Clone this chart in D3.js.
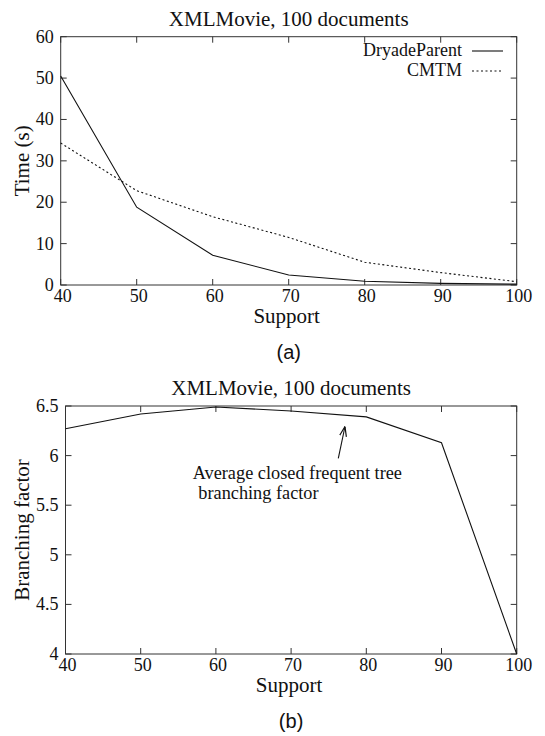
<!DOCTYPE html>
<html>
<head>
<meta charset="utf-8">
<script src="https://cdn.jsdelivr.net/npm/d3@7"></script>
<style>
  body { margin: 0; background: #fff; }
  svg text { font-family: "Liberation Serif", "Times New Roman", serif; fill: #111; }
  .sans { font-family: "Liberation Sans", Arial, sans-serif !important; }
</style>
</head>
<body>
<svg id="chart" width="545" height="736"></svg>
<script>
// values
const support = [40, 50, 60, 70, 80, 90, 100];
const dryadeParent = [50.5, 18.8, 7.2, 2.4, 0.9, 0.4, 0.2];
const cmtm = [34.3, 22.8, 16.5, 11.5, 5.5, 3.0, 0.8];
const branching = [6.27, 6.42, 6.49, 6.45, 6.39, 6.13, 4.0];
const timeTicks = [0, 10, 20, 30, 40, 50, 60];
const branchTicks = [4, 4.5, 5, 5.5, 6, 6.5];

const svg = d3.select('#chart');

function panel(opts) {
    const x = d3.scaleLinear().domain([40, 100]).range([opts.left, opts.right]);
    const y = d3.scaleLinear().domain(opts.yDomain).range([opts.bottom, opts.top]);
    const g = svg.append('g');
    const tick = 6;
    const mid = (opts.left + opts.right) / 2;

    // frame
    g.append('rect')
        .attr('x', opts.left).attr('y', opts.top)
        .attr('width', opts.right - opts.left).attr('height', opts.bottom - opts.top)
        .attr('fill', 'none').attr('stroke', '#333').attr('stroke-width', 1);

    // inward ticks, mirrored on top and right
    support.forEach(v => {
        g.append('line').attr('x1', x(v)).attr('x2', x(v))
            .attr('y1', opts.bottom).attr('y2', opts.bottom - tick).attr('stroke', '#333');
        g.append('line').attr('x1', x(v)).attr('x2', x(v))
            .attr('y1', opts.top).attr('y2', opts.top + tick).attr('stroke', '#333');
        g.append('text').text(v)
            .attr('x', x(v) + 2).attr('y', opts.bottom + 16.5)
            .attr('text-anchor', 'middle').attr('font-size', 18);
    });
    opts.yTicks.forEach(v => {
        g.append('line').attr('x1', opts.left).attr('x2', opts.left + tick)
            .attr('y1', y(v)).attr('y2', y(v)).attr('stroke', '#333');
        g.append('line').attr('x1', opts.right).attr('x2', opts.right - tick)
            .attr('y1', y(v)).attr('y2', y(v)).attr('stroke', '#333');
        g.append('text').text(v)
            .attr('x', opts.left - 7).attr('y', y(v) + 6)
            .attr('text-anchor', 'end').attr('font-size', 18);
    });

    // titles
    g.append('text').text('XMLMovie, 100 documents')
        .attr('x', mid).attr('y', opts.top - 11)
        .attr('text-anchor', 'middle').attr('font-size', 21);
    g.append('text').text('Support')
        .attr('x', mid - 2).attr('y', opts.bottom + 38)
        .attr('text-anchor', 'middle').attr('font-size', 21);
    g.append('text').text(opts.yLabel)
        .attr('transform', `translate(29,${(opts.top + opts.bottom) / 2}) rotate(-90)`)
        .attr('text-anchor', 'middle').attr('font-size', 21);
    g.append('text').text(opts.tag).attr('class', 'sans')
        .attr('x', mid).attr('y', opts.bottom + 74)
        .attr('text-anchor', 'middle').attr('font-size', 20);

    return { x, y, g };
}

// (a) running time
const a = panel({ left: 60.7, right: 516.7, top: 36.7, bottom: 285,
    yDomain: [0, 60], yTicks: timeTicks, yLabel: 'Time (s)', tag: '(a)' });

const lineA = d3.line().x((d, i) => a.x(support[i])).y(d => a.y(d));
a.g.append('path').datum(dryadeParent).attr('d', lineA)
    .attr('fill', 'none').attr('stroke', '#111').attr('stroke-width', 1.1);
a.g.append('path').datum(cmtm).attr('d', lineA)
    .attr('fill', 'none').attr('stroke', '#111').attr('stroke-width', 1.1)
    .attr('stroke-dasharray', '2,2.5');

// legend
const legend = [{ name: 'DryadeParent', dash: null }, { name: 'CMTM', dash: '2,2.5' }];
legend.forEach((d, i) => {
    const ly = 51 + i * 20;
    a.g.append('text').text(d.name)
        .attr('x', 462).attr('y', ly + 5)
        .attr('text-anchor', 'end').attr('font-size', 18);
    a.g.append('line').attr('x1', 472).attr('x2', 503)
        .attr('y1', ly).attr('y2', ly)
        .attr('stroke', '#111').attr('stroke-width', 1.1)
        .attr('stroke-dasharray', d.dash);
});

// (b) branching factor
const b = panel({ left: 65.5, right: 516.7, top: 406, bottom: 654,
    yDomain: [4, 6.5], yTicks: branchTicks, yLabel: 'Branching factor', tag: '(b)' });

const lineB = d3.line().x((d, i) => b.x(support[i])).y(d => b.y(d));
b.g.append('path').datum(branching).attr('d', lineB)
    .attr('fill', 'none').attr('stroke', '#111').attr('stroke-width', 1.1);

// annotation with arrow
svg.append('defs').append('marker')
    .attr('id', 'arrow').attr('viewBox', '0 0 10 10')
    .attr('refX', 10).attr('refY', 5)
    .attr('markerWidth', 9).attr('markerHeight', 9)
    .attr('orient', 'auto')
    .append('path').attr('d', 'M0,1.5 L10,5 L0,8.5').attr('fill', 'none').attr('stroke', '#111').attr('stroke-width', 1.2);

b.g.append('line')
    .attr('x1', 338.3).attr('y1', 458.3).attr('x2', 345).attr('y2', 426.5)
    .attr('stroke', '#111').attr('stroke-width', 1.1)
    .attr('marker-end', 'url(#arrow)');
b.g.append('text').text('Average closed frequent tree')
    .attr('x', 192.7).attr('y', 479).attr('font-size', 18.3);
b.g.append('text').text('branching factor')
    .attr('x', 198.3).attr('y', 499).attr('font-size', 18.3);
</script>
</body>
</html>
